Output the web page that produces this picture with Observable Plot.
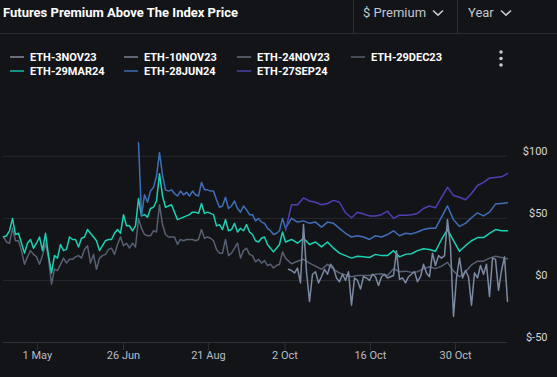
<!DOCTYPE html>
<html><head><meta charset="utf-8">
<script src="https://cdn.jsdelivr.net/npm/d3@7"></script>
<script src="https://cdn.jsdelivr.net/npm/@observablehq/plot@0.6"></script>
<style>
body{margin:0;background:#131417;width:557px;height:377px;overflow:hidden;font-family:Roboto,"Noto Sans",sans-serif;position:relative}
#hdr{position:absolute;left:0;top:0;width:557px;height:33px;border-bottom:1px solid #2a2d31}
#title{position:absolute;left:3px;top:0;line-height:25px;font-size:13px;font-weight:700;color:#fff;white-space:nowrap}
.dd{position:absolute;top:0;height:33px;border-left:1px solid #2a2d31;color:#c3c7ce;font-size:13px;line-height:25px;white-space:nowrap}
.dd svg{vertical-align:middle;margin-left:6px;margin-top:-2px}
.lg{position:absolute;font-size:11px;font-weight:700;color:#fff;white-space:nowrap;line-height:14px}
.sw{display:inline-block;width:14px;height:2px;vertical-align:middle;margin-right:6px;margin-top:-2px}
#kebab{position:absolute;left:498px;top:49px}
#chart{position:absolute;left:0;top:90px}
</style></head>
<body>
<div id="hdr">
  <div id="title">Futures Premium Above The Index Price</div>
  <div class="dd" style="left:353px;width:103px;padding-left:9px;box-sizing:border-box">$ Premium<svg width="12" height="8"><path d="M1 1.5L6 6.2L11 1.5" stroke="#c3c7ce" fill="none" stroke-width="1.6"/></svg></div>
  <div class="dd" style="left:457px;width:100px;padding-left:10px;box-sizing:border-box">Year<svg width="12" height="8"><path d="M1 1.5L6 6.2L11 1.5" stroke="#c3c7ce" fill="none" stroke-width="1.6"/></svg></div>
</div>
<div id="legend"></div>
<svg id="kebab" width="6" height="20"><circle cx="3" cy="3" r="1.8" fill="#c3c7ce"/><circle cx="3" cy="9.5" r="1.8" fill="#c3c7ce"/><circle cx="3" cy="16" r="1.8" fill="#c3c7ce"/></svg>
<div id="chart"></div>
<script>
// ---- data ----
const seriesNames = ["ETH-3NOV23","ETH-10NOV23","ETH-24NOV23","ETH-29DEC23","ETH-29MAR24","ETH-28JUN24","ETH-27SEP24"];
const lineColors  = ["#7b8aa3","#6f7a8c","#5d6574","#566072","#1bd1b5","#3f6fb8","#4d40b5"];
const swatchColors= ["#676e7a","#5e6673","#4f5763","#454c57","#12927f","#34558a","#3b3585"];

const tickIdx    = [11.3, 40, 68.3, 93.8, 122.3, 150.7];
const tickLabels = ["1 May","26 Jun","21 Aug","2 Oct","16 Oct","30 Oct"];
const yTicks = [-50, 0, 50, 100];

// ETH-29DEC23: daily phase (index 0..94), then step 2 from index 96
const dec23Early = [35,31,30,42,32,32,24,13,19,24, 21,19,13,20,30,18,-3,9,8,13,
  18,14,17,17,19,20,18,25,28,14, 21,9,18,20,21,25,26,21,29,35,
  28,30,26,30,27,50,42,37,36,36, 40,39,61,45,37,35,35,35,29,33,
  32,33,33,33,32,33,41,34,35,34, 32,25,22,22,33,20,22,26,30,18,
  24,26,21,20,15,17,14,16,12,13, 10,12,13,23,18];
const dec23Late = [13.5,15.5,17,14,11.5,9,13,9,6,4.5, 3,4,4,4,5,5.4,4,9.5,7,7.5,
  6.5,7,9.5,11,9.5,11.5,14.5,7.5,3,7, 12.5,15.5,15.5,18,19.5,18.5,17.5];

// ETH-29MAR24
const mar24Early = [35,36,40,50,37,38,30,22,30,33, 26,30,35,24,38,20,6,20,18,29,
  24,25,35,33,33,27,34,35,41,38, 35,32,24,28,32,33,33,38,41,38,
  53,44,44,40,44,66,52,53,51,58, 59,64,86,68,59,60,61,55,49,50,
  51,52,53,55,55,54,62,54,55,54, 53,44,45,41,49,40,41,46,39,42,
  40,45,39,37,32,31,34,35,29,26, 23,26,29,39,31];
const mar24Late = [33,30,34,29,31,27,31,26,22,20, 18,19.5,19,18.5,21,20,20,24,19,21,
  21.5,24,25.5,25,23.5,33,41,32,23.5,28, 32,34.5,34.5,38,41,40,40];

// ETH-28JUN24: starts at index 45
const jun24Early = [111,52,69,63,72,75,84,103,85,73, 72,73,70,68,72,69,71,68,72,69,
  68,79,73,73,72,72,65,59,60,67, 58,60,64,58,55,60,57,53,53,48,
  50,47,46,42,40,37,38,40,50,42];
const jun24Late = [50,47,48,46,47,43,47,46,42,38, 35,36,35,33,36,35,37,40,36,38,
  37.5,39,41,42,42,51,60,49,43.5,46, 50.5,54.5,52,55,61.5,62,62.6];

// ETH-27SEP24: starts at index 94, step 2
const sep24 = [40,61,61,66.5,64,63,61,62,64.5,63, 54.5,50.5,55,53.5,52,52,53,55.8,50,52.5,
  52.5,53,54,58,60,58.5,67,75,68.5,67, 65,70,76.5,79,82.5,83,83.5,86];

// ETH-3NOV23: starts at index 95, step 1
const nov3 = [9,8,6,10,-2,45,7,-17,5,7, -2,3,9,5,13,10,2,-1,5,0,
  7,-20,2,0,-7,3,2,0,5,3, -4,3,5,2,3,4,24,1,2,-2,
  3,5,7,-1,3,13,6,3,22,12, 20,18,20,49,27,-29,2,18,2,8,
  3,-20,6,2,12,5,13,-13,18,17, -8,8,19,-17];

// ---- build rows ----
function seg(name, values, start, step){
  return values.map((v,i)=>({series:name, t:start+i*step, v}));
}
const rows = {
  "ETH-29DEC23": [...seg("ETH-29DEC23", dec23Early, 0, 1), ...seg("ETH-29DEC23", dec23Late, 96, 2)],
  "ETH-29MAR24": [...seg("ETH-29MAR24", mar24Early, 0, 1), ...seg("ETH-29MAR24", mar24Late, 96, 2)],
  "ETH-28JUN24": [...seg("ETH-28JUN24", jun24Early, 45, 1), ...seg("ETH-28JUN24", jun24Late, 96, 2)],
  "ETH-27SEP24": seg("ETH-27SEP24", sep24, 94, 2),
  "ETH-3NOV23":  seg("ETH-3NOV23", nov3, 95, 1)
};
const colorOf = n => lineColors[seriesNames.indexOf(n)];
const drawOrder = ["ETH-29DEC23","ETH-29MAR24","ETH-28JUN24","ETH-27SEP24","ETH-3NOV23"];

// ---- legend ----
const legend = document.getElementById("legend");
const colX = [10, 124, 237, 351];
seriesNames.forEach((n,i)=>{
  const d = document.createElement("div");
  d.className = "lg";
  d.style.left = colX[i % 4] + "px";
  d.style.top = (i < 4 ? 51 : 65) + "px";
  d.innerHTML = `<span class="sw" style="background:${swatchColors[i]}"></span>${n}`;
  legend.appendChild(d);
});

// ---- chart ----
const chart = Plot.plot({
  width: 557,
  height: 287,
  marginLeft: 3,
  marginRight: 50,
  marginTop: 41,
  marginBottom: 35,
  style: {background: "transparent", fontFamily: "Roboto, sans-serif", fontSize: "11px"},
  x: {domain: [0, 168], label: null},
  y: {domain: [-50, 120], label: null},
  marks: [
    Plot.gridY(yTicks.filter(d => d > -50), {stroke: "#26292d", strokeOpacity: 1}),
    Plot.ruleY([-50], {stroke: "#2e3136"}),
    Plot.axisX({ticks: tickIdx, tickFormat: d => tickLabels[tickIdx.indexOf(d)], tickSize: 8, tickPadding: 1,
      stroke: "#2e3136", fill: "#b9bdc4", fontSize: 11, label: null}),
    Plot.axisY({anchor: "right", ticks: yTicks, tickFormat: d => "$" + d, tickSize: 0, tickPadding: 0,
      textAnchor: "end", dx: 40, dy: -5, fill: "#d3d6db", fontSize: 11, label: null}),
    ...drawOrder.map(n => Plot.line(rows[n], {x: "t", y: "v", stroke: colorOf(n), strokeWidth: 1.5}))
  ]
});
document.getElementById("chart").appendChild(chart);
</script>
</body></html>
